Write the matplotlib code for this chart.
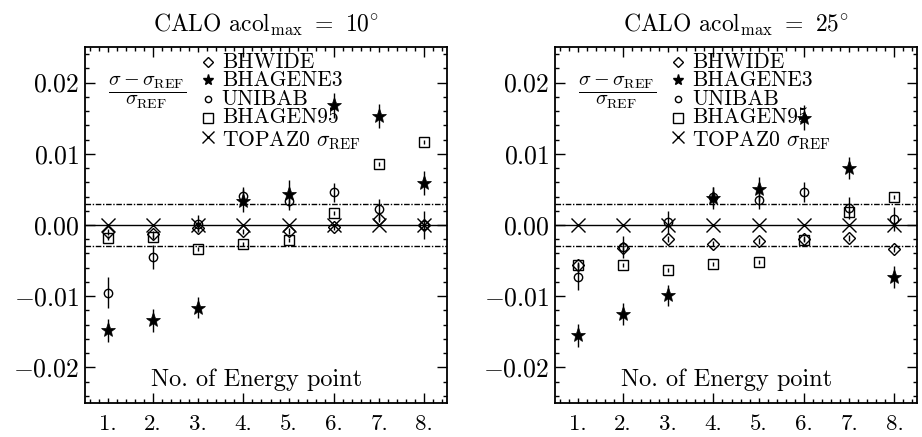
import matplotlib
matplotlib.use("Agg")
import matplotlib.pyplot as plt
import numpy as np
from matplotlib.ticker import MultipleLocator, FixedLocator

plt.rcParams['font.family'] = 'serif'
plt.rcParams['font.serif'] = ['cmr10', 'DejaVu Serif']
plt.rcParams['mathtext.fontset'] = 'cm'
plt.rcParams['axes.formatter.use_mathtext'] = True

points = [1, 2, 3, 4, 5, 6, 7, 8]
xlabels = ['1.', '2.', '3.', '4.', '5.', '6.', '7.', '8.']
ylabels_vals = [-0.02, -0.01, 0.0, 0.01, 0.02]
titles = [r'CALO acol$_{\rm max}$ $=$ $10^{\circ}$', r'CALO acol$_{\rm max}$ $=$ $25^{\circ}$']

# acol_max = 10 deg
bhwide_10 = [-0.0010, -0.0013, -0.0004, -0.0009, -0.0008, -0.0003, 0.0008, 0.0000]
bhagene3_10 = [-0.0148, -0.0134, -0.0116, 0.0034, 0.0044, 0.0168, 0.0153, 0.0059]
unibab_10 = [-0.0095, -0.0045, 0.0002, 0.0041, 0.0034, 0.0046, 0.0022, 0.0000]
bhagen95_10 = [-0.0018, -0.0017, -0.0034, -0.0027, -0.0021, 0.0017, 0.0086, 0.0117]
topaz0_10 = [0.0] * 8
err_bhagene3_10 = [0.0016, 0.0016, 0.0015, 0.0016, 0.0019, 0.0017, 0.0017, 0.0017]
err_unibab_10 = [0.0022, 0.0017, 0.0012, 0.0013, 0.0013, 0.0013, 0.0015, 0.0019]

# acol_max = 25 deg
bhwide_25 = [-0.0056, -0.0032, -0.0020, -0.0026, -0.0022, -0.0019, -0.0018, -0.0034]
bhagene3_25 = [-0.0155, -0.0125, -0.0099, 0.0038, 0.0051, 0.0151, 0.0080, -0.0073]
unibab_25 = [-0.0073, -0.0031, 0.0004, 0.0040, 0.0035, 0.0046, 0.0024, 0.0008]
bhagen95_25 = [-0.0056, -0.0056, -0.0063, -0.0055, -0.0052, -0.0021, 0.0018, 0.0039]
topaz0_25 = [0.0] * 8
err_bhagene3_25 = [0.0016, 0.0016, 0.0015, 0.0016, 0.0017, 0.0017, 0.0016, 0.0016]
err_unibab_25 = [0.0018, 0.0015, 0.0016, 0.0013, 0.0013, 0.0014, 0.0016, 0.0017]

panels = [
    (bhwide_10, bhagene3_10, unibab_10, bhagen95_10, topaz0_10, err_bhagene3_10, err_unibab_10),
    (bhwide_25, bhagene3_25, unibab_25, bhagen95_25, topaz0_25, err_bhagene3_25, err_unibab_25),
]

names = ['BHWIDE', 'BHAGENE3', 'UNIBAB', 'BHAGEN95', r'TOPAZ0 $\sigma_{\rm REF}$']
leg_markers = [('D', 5, 'none'), ('*', 8, 'k'), ('o', 4.5, 'none'), ('s', 6.5, 'none'), ('x', 9, 'none')]

fig = plt.figure(figsize=(9.22, 4.37), dpi=100)
axes_pos = [[0.0922, 0.0778, 0.3926, 0.8146], [0.602, 0.0778, 0.3926, 0.8146]]

for k, (bw, bg3, ub, bg95, tp, e_bg3, e_ub) in enumerate(panels):
    ax = fig.add_axes(axes_pos[k])
    ax.set_xlim(0.5, 8.5)
    ax.set_ylim(-0.025, 0.025)

    ax.axhline(0.0, color='k', lw=1.0)
    ax.axhline(0.003, color='k', lw=1.0, ls=(0, (4, 1.2, 1, 1.2)))
    ax.axhline(-0.003, color='k', lw=1.0, ls=(0, (4, 1.2, 1, 1.2)))

    ax.errorbar(points, bw, yerr=0.0004, fmt='D', ms=6, mfc='none', mec='k', mew=1.0,
                ecolor='k', elinewidth=1.0, capsize=0)
    ax.errorbar(points, bg95, yerr=0.0003, fmt='s', ms=7.5, mfc='none', mec='k', mew=1.0,
                ecolor='k', elinewidth=1.0, capsize=0)
    ax.errorbar(points, ub, yerr=e_ub, fmt='o', ms=6, mfc='none', mec='k', mew=1.0,
                ecolor='k', elinewidth=1.0, capsize=0)
    ax.errorbar(points, bg3, yerr=e_bg3, fmt='*', ms=11, mfc='k', mec='k', mew=0.5,
                ecolor='k', elinewidth=1.0, capsize=0)
    ax.plot(points, tp, 'x', ms=10, mec='k', mew=1.0)

    ax.xaxis.set_major_locator(FixedLocator(points))
    ax.set_xticklabels(xlabels, fontsize=16.5)
    ax.xaxis.set_minor_locator(MultipleLocator(0.2))
    ax.set_yticks(ylabels_vals)
    ax.set_yticklabels([r'$%.2f$' % v if v != 0 else r'$0.00$' for v in ylabels_vals], fontsize=18.5)
    ax.yaxis.set_minor_locator(MultipleLocator(0.002))
    ax.tick_params(which='both', direction='in', top=True, right=True, width=1.0, colors='k')
    ax.tick_params(which='major', axis='y', length=7, pad=4)
    ax.tick_params(which='major', axis='x', length=3.5, pad=8)
    ax.tick_params(which='minor', length=3)
    for i, t in enumerate(ax.xaxis.get_major_ticks()):
        if points[i] % 2 == 0:
            t.tick1line.set_markersize(7)
            t.tick2line.set_markersize(7)
    for s in ax.spines.values():
        s.set_linewidth(1.3)

    ax.set_title(titles[k], fontsize=17, pad=11)

    ax.text(0.475, 0.065, 'No. of Energy point', transform=ax.transAxes,
            ha='center', va='center', fontsize=17.5)
    ax.text(0.171, 0.872, r'$\dfrac{\sigma-\sigma_{\rm REF}}{\sigma_{\rm REF}}$',
            transform=ax.transAxes, ha='center', va='center', fontsize=14.5)

    rows = [0.958, 0.906, 0.854, 0.802, 0.738]
    for (m, ms, fc), name, yy in zip(leg_markers, names, rows):
        ax.plot([0.34], [yy + (0.01 if m == 'x' else 0)], marker=m, ms=ms, mfc=fc, mec='k',
                mew=1.0, ls='none', transform=ax.transAxes, clip_on=False)
        ax.text(0.378, yy, name, transform=ax.transAxes, ha='left', va='center', fontsize=15.5)

fig.savefig('out.png', dpi=100)
